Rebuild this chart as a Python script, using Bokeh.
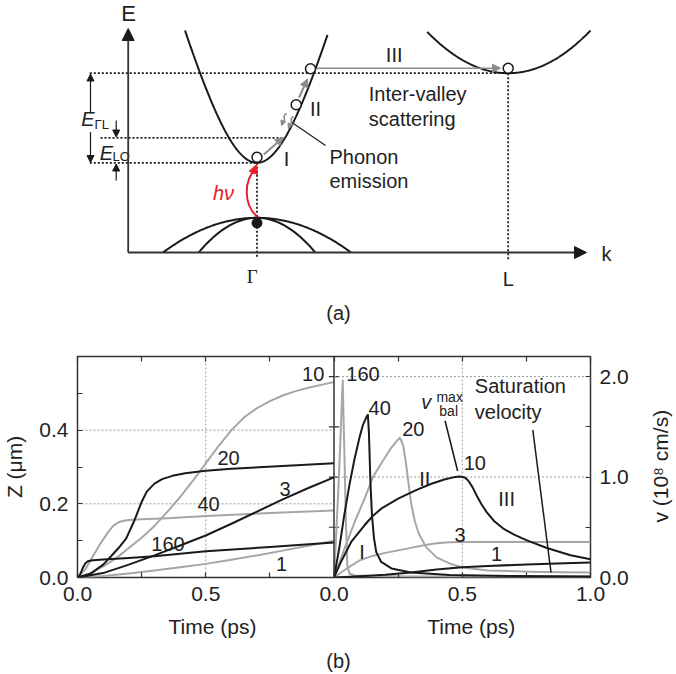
import numpy as np
from bokeh.plotting import figure
from bokeh.models import (Range1d, LinearAxis, FixedTicker, Arrow, NormalHead,
                          PrintfTickFormatter, Span)
from bokeh.layouts import column, row
from bokeh.embed import file_html
from bokeh.resources import INLINE
from bokeh.core.properties import value

FONT = "Liberation Sans"
SERIF = "Liberation Serif"
BLACK = "#1a1a1a"
LGRAY = "#a6a6a6"
AGRAY = "#8c8c8c"
RED = "#e5202a"
FRAME = "#333333"

# ---------------- panel (b), left: displacement Z (um) vs time (ps) ----------------
z_t_10 = [0, 0.05, 0.1, 0.15, 0.2, 0.25, 0.3, 0.35, 0.4, 0.45, 0.5, 0.55, 0.6, 0.65, 0.7, 0.75, 0.8, 0.85, 0.9, 0.95, 1.0]
z_10 = [0, 0.012, 0.03, 0.052, 0.08, 0.108, 0.14, 0.178, 0.218, 0.263, 0.31, 0.357, 0.4, 0.435, 0.46, 0.479, 0.494, 0.506, 0.515, 0.523, 0.531]
z_t_20 = [0, 0.05, 0.1, 0.13, 0.16, 0.19, 0.22, 0.25, 0.27, 0.3, 0.33, 0.37, 0.42, 0.5, 0.6, 0.8, 1.0]
z_20 = [0, 0.01, 0.035, 0.057, 0.08, 0.106, 0.152, 0.205, 0.233, 0.255, 0.267, 0.276, 0.283, 0.29, 0.295, 0.303, 0.31]
z_t_40 = [0, 0.03, 0.06, 0.09, 0.12, 0.14, 0.16, 0.18, 0.2, 0.25, 0.35, 0.5, 0.75, 1.0]
z_40 = [0, 0.022, 0.058, 0.093, 0.124, 0.141, 0.15, 0.154, 0.156, 0.158, 0.161, 0.167, 0.175, 0.182]
z_t_160 = [0, 0.01, 0.02, 0.03, 0.04, 0.06, 0.1, 0.2, 0.3, 0.5, 0.75, 1.0]
z_160 = [0, 0.008, 0.025, 0.038, 0.044, 0.047, 0.049, 0.053, 0.058, 0.071, 0.083, 0.095]
z_t_3 = [0, 0.1, 0.2, 0.3, 0.4, 0.5, 0.6, 0.7, 0.8, 0.9, 1.0]
z_3 = [0, 0.012, 0.035, 0.06, 0.087, 0.114, 0.146, 0.179, 0.212, 0.243, 0.272]
z_t_1 = [0, 0.1, 0.2, 0.3, 0.4, 0.5, 0.6, 0.7, 0.8, 0.9, 1.0]
z_1 = [0, 0.004, 0.011, 0.019, 0.028, 0.037, 0.048, 0.06, 0.073, 0.086, 0.1]

z_label_text = ["10", "20", "3", "40", "160", "1"]
z_label_t = [0.919, 0.589, 0.809, 0.511, 0.353, 0.796]
z_label_z = [0.552, 0.324, 0.241, 0.2, 0.092, 0.038]

z_ticks = [0, 0.2, 0.4]
z_minor = [0.1, 0.3, 0.5]
z_grid = [0.2, 0.4]

# ---------------- panel (b), right: velocity v (1e8 cm/s) vs time (ps) ----------------
v_t_160 = [0, 0.01, 0.02, 0.034, 0.04, 0.046, 0.052, 0.06, 0.08, 0.15, 0.3, 0.6, 1.0]
v_160 = [0, 0.5, 1.05, 1.96, 1.3, 0.6, 0.12, 0.04, 0.02, 0.015, 0.01, 0.01, 0.01]
v_t_40 = [0, 0.021, 0.04, 0.06, 0.08, 0.1, 0.113, 0.125, 0.132, 0.136, 0.142, 0.148, 0.156, 0.165, 0.184, 0.224, 0.3, 0.45, 0.7, 1.0]
v_40 = [0, 0.3, 0.62, 0.92, 1.18, 1.4, 1.52, 1.59, 1.62, 1.45, 0.95, 0.62, 0.39, 0.25, 0.155, 0.09, 0.05, 0.025, 0.015, 0.01]
v_t_20 = [0, 0.04, 0.08, 0.12, 0.152, 0.19, 0.22, 0.245, 0.256, 0.263, 0.27, 0.28, 0.29, 0.3, 0.315, 0.33, 0.36, 0.4, 0.45, 0.5, 0.6, 0.8, 1.0]
v_20 = [0, 0.28, 0.55, 0.79, 1.0, 1.16, 1.28, 1.36, 1.39, 1.36, 1.31, 1.15, 0.95, 0.75, 0.56, 0.44, 0.3, 0.2, 0.14, 0.1, 0.07, 0.055, 0.05]
v_t_10 = [0, 0.027, 0.067, 0.1, 0.119, 0.15, 0.184, 0.25, 0.32, 0.38, 0.43, 0.465, 0.49, 0.51, 0.523, 0.54, 0.556, 0.575, 0.595, 0.625, 0.66, 0.7, 0.752, 0.83, 0.922, 1.0]
v_10 = [0, 0.155, 0.354, 0.46, 0.52, 0.61, 0.685, 0.785, 0.87, 0.933, 0.975, 0.997, 1.006, 0.995, 0.966, 0.9, 0.817, 0.73, 0.651, 0.56, 0.487, 0.43, 0.37, 0.294, 0.221, 0.182]
v_t_3 = [0, 0.05, 0.1, 0.15, 0.2, 0.25, 0.3, 0.35, 0.4, 0.45, 0.5, 0.6, 0.8, 1.0]
v_3 = [0, 0.09, 0.17, 0.215, 0.245, 0.27, 0.295, 0.32, 0.34, 0.35, 0.354, 0.354, 0.354, 0.354]
v_t_1 = [0, 0.1, 0.2, 0.3, 0.4, 0.5, 0.6, 0.75, 0.9, 1.0]
v_1 = [0, 0.012, 0.028, 0.05, 0.08, 0.103, 0.114, 0.13, 0.142, 0.149]

v_label_text = ["160", "40", "20", "II", "3", "I", "10", "III", "1"]
v_label_t = [0.113, 0.178, 0.309, 0.354, 0.491, 0.109, 0.549, 0.673, 0.634]
v_label_v = [2.03, 1.69, 1.48, 0.98, 0.42, 0.254, 1.14, 0.785, 0.238]
sat_text = ["Saturation", "velocity"]
sat_t = [0.549, 0.549]
sat_v = [1.91, 1.645]
sat_leader_t = [0.775, 0.846]
sat_leader_v = [1.47, 0.05]
vbal_leader_t = [0.433, 0.482]
vbal_leader_v = [1.56, 1.06]

v_ticks = [0, 1.0, 2.0]
v_minor = [0.5, 1.5]
v_grid = [1.0, 2.0]

t_ticks = [0, 0.5, 1.0]
t_minor = [0.25, 0.75]
t_grid = [0.5]
T_MAX = 1.0

# ---------------- panel (a): schematic band diagram (drawing units = pixels) ----------------
AX_X, AX_Y = 127.7, 252.0
E_AXIS_TIP, K_AXIS_TIP = 28.0, 586.0
G_K0, G_E0 = 256.5, 162.3          # Gamma-valley minimum
NP_ALPHA, NP_C = 0.002445, 0.03379  # non-parabolic band shape
G_K_RANGE = (184.5, 327.0)
L_K0, L_E0, L_CURV = 507.7, 72.7, 0.0063
L_K_RANGE = (426.7, 590.0)
VB_E0 = 217.3
VB_CURV = [0.003927, 0.0102]
VB_HALF = [94.0, 58.3]
E_LO_LEVEL = 137.3

dot_x0 = [89.3, 100.0, 89.3, G_K0, L_K0]
dot_y0 = [L_E0, E_LO_LEVEL, G_E0, G_E0, L_E0]
dot_x1 = [L_K0, 283.0, G_K0, G_K0, L_K0]
dot_y1 = [L_E0, E_LO_LEVEL, G_E0, 258.0, 260.0]

open_x = [256.5, 295.7, 310.0, 507.7]
open_y = [156.7, 104.3, 68.3, 67.7]
hole_x, hole_y = [256.5], [222.5]


def band_gamma(k):
    dk = k - G_K0
    return G_E0 - (-1 + np.sqrt(1 + 4 * NP_ALPHA * NP_C * dk ** 2)) / (2 * NP_ALPHA)


def add_text(p, x, y, text, size="20px", align="center", color="#222222",
             font=FONT, style="normal", **kw):
    p.text(x=x, y=y, text=text, text_font=value(font), text_font_size=size,
           text_align=align, text_baseline="middle", text_color=color,
           text_font_style=style, **kw)


def blank_fig(w, h, flip=True):
    f = figure(width=w, height=h, x_range=Range1d(0, w),
               y_range=Range1d(h, 0) if flip else Range1d(0, h),
               x_axis_type=None, y_axis_type=None, output_backend="svg",
               toolbar_location=None, min_border=0)
    f.grid.visible = False
    f.outline_line_color = None
    return f


top = blank_fig(676, 330)

# dotted guides
top.segment(x0=dot_x0, y0=dot_y0, x1=dot_x1, y1=dot_y1, line_color=BLACK,
            line_width=1.8, line_dash="2 2")

# axes
for xs, ys, xe, ye in [(AX_X, AX_Y, AX_X, E_AXIS_TIP), (AX_X, AX_Y, K_AXIS_TIP, AX_Y)]:
    top.add_layout(Arrow(end=NormalHead(size=12, fill_color=BLACK, line_color=BLACK),
                         x_start=xs, y_start=ys, x_end=xe, y_end=ye,
                         line_color=FRAME, line_width=1.8))

# bands
kg = np.linspace(*G_K_RANGE, 200)
top.line(kg, band_gamma(kg), line_color=BLACK, line_width=2)
kl = np.linspace(*L_K_RANGE, 200)
top.line(kl, L_E0 - L_CURV * (kl - L_K0) ** 2, line_color=BLACK, line_width=2)
for a, h in zip(VB_CURV, VB_HALF):
    kv = np.linspace(G_K0 - h, G_K0 + h, 150)
    top.line(kv, VB_E0 + a * (kv - G_K0) ** 2, line_color=BLACK, line_width=2)

# energy-difference arrows
small_arrows = [(90, 113, 90, 73.5), (90, 131.5, 90, 162), (115.7, 120, 115.7, 136.5),
                (115.7, 180, 115.7, 163.5)]
for xs, ys, xe, ye in small_arrows:
    top.add_layout(Arrow(end=NormalHead(size=7, fill_color=BLACK, line_color=BLACK),
                         x_start=xs, y_start=ys, x_end=xe, y_end=ye,
                         line_color=BLACK, line_width=1.2))

# gray scattering arrows
gray_arrows = [(263.3, 154, 282.7, 137, 2), (298.5, 97, 307, 78.5, 2), (316, 67.7, 500, 67.7, 1.6)]
for xs, ys, xe, ye, w in gray_arrows:
    top.add_layout(Arrow(end=NormalHead(size=8, fill_color=AGRAY, line_color=AGRAY),
                         x_start=xs, y_start=ys, x_end=xe, y_end=ye,
                         line_color=AGRAY, line_width=w))
# phonon-emission wiggles
top.bezier(x0=[286, 293], y0=[113, 116], x1=[281, 288], y1=[124, 127],
           cx0=[280, 287], cy0=[115, 118], cx1=[288, 295], cy1=[121, 124],
           line_color=AGRAY, line_width=1.6)
for xs, ys, xe, ye in [(282.5, 121, 281, 125), (289.5, 124, 288, 128)]:
    top.add_layout(Arrow(end=NormalHead(size=5, fill_color=AGRAY, line_color=AGRAY),
                         x_start=xs, y_start=ys, x_end=xe, y_end=ye,
                         line_color=AGRAY, line_width=1))

# optical excitation
top.bezier(x0=[256.5], y0=[216], x1=[255.5], y1=[168], cx0=[243], cy0=[204],
           cx1=[243], cy1=[180], line_color=RED, line_width=2)
top.add_layout(Arrow(end=NormalHead(size=9, fill_color=RED, line_color=RED),
                     x_start=252.5, y_start=173, x_end=256, y_end=164,
                     line_color=RED, line_width=2))

# leader line for phonon emission
top.line([293.3, 325], [123.3, 145], line_color=BLACK, line_width=1.2)

# carriers
top.scatter(open_x, open_y, size=10, fill_color="white", line_color=BLACK, line_width=1.5)
top.scatter(hole_x, hole_y, size=10, fill_color=BLACK, line_color=BLACK)

add_text(top, [128], [13], ["E"], size="22px")
add_text(top, [606], [253], ["k"])
add_text(top, [251.7], [276], ["Γ"], size="19px", font=SERIF)
add_text(top, [507.7], [278], ["L"])
add_text(top, [286, 315, 393.7], [158.5, 108.3, 54], ["I", "II", "III"])
add_text(top, [368.3, 368.3, 329, 329], [93.3, 118.3, 156.7, 180],
         ["Inter-valley", "scattering", "Phonon", "emission"], align="left")
add_text(top, [223], [192], ["hν"], color=RED, style="italic")
add_text(top, [87.5, 106], [118, 152], ["E", "E"], style="italic")
add_text(top, [94, 112], [124, 156], ["ΓL", "LO"], size="13px", align="left")
add_text(top, [338], [312], ["(a)"])


# ---------------- panel (b): two abutting frames in one plot ----------------
# default ranges -> left panel (t, Z); extra ranges "t2"/"v" -> right panel (t, v)
def style_axis(ax, labels=True):
    ax.axis_line_color = None
    ax.major_tick_in = 5
    ax.major_tick_out = 0
    ax.minor_tick_in = 5
    ax.minor_tick_out = 0
    ax.major_tick_line_color = FRAME
    ax.minor_tick_line_color = FRAME
    ax.major_tick_line_width = 1.2
    ax.minor_tick_line_width = 1.2
    ax.major_label_text_font = FONT
    ax.major_label_text_font_size = "21px"
    ax.major_label_text_color = "#222222"
    ax.major_label_standoff = 9
    ax.axis_label_text_font = FONT
    ax.axis_label_text_font_size = "21px"
    ax.axis_label_text_font_style = "normal"
    ax.axis_label_text_color = "#222222"
    if not labels:
        ax.major_label_text_font_size = "1px"
        ax.major_label_text_alpha = 0
        ax.major_label_standoff = 0


pb = figure(width=644, height=282,
            x_range=Range1d(0, 2 * T_MAX), y_range=Range1d(0, 0.6),
            extra_x_ranges={"t2": Range1d(-T_MAX, T_MAX)},
            extra_y_ranges={"v": Range1d(0, 2.2)},
            x_axis_location=None, y_axis_location=None, output_backend="svg",
            toolbar_location=None, min_border_left=77, min_border_right=54,
            min_border_top=26, min_border_bottom=35)
pb.grid.visible = False
pb.outline_line_color = FRAME
pb.outline_line_width = 1.5

fmt = PrintfTickFormatter(format="%.1f")
# time axis: left panel ticks, then right panel ticks (shifted by one panel width)
all_t_ticks = t_ticks + [T_MAX + t for t in t_ticks[1:]]
all_t_minor = t_minor + [T_MAX + t for t in t_minor]
xb = LinearAxis(ticker=FixedTicker(ticks=all_t_ticks, minor_ticks=all_t_minor), formatter=fmt)
style_axis(xb)
xb.major_label_overrides = {T_MAX + t: "%.1f" % t for t in t_ticks}
pb.add_layout(xb, "below")
xt = LinearAxis(ticker=FixedTicker(ticks=all_t_ticks, minor_ticks=all_t_minor))
style_axis(xt, labels=False)
pb.add_layout(xt, "above")

yl = LinearAxis(ticker=FixedTicker(ticks=z_ticks, minor_ticks=z_minor), formatter=fmt,
                axis_label="Z (μm)")
style_axis(yl)
yl.axis_label_standoff = 10
pb.add_layout(yl, "left")
yr = LinearAxis(y_range_name="v", ticker=FixedTicker(ticks=v_ticks, minor_ticks=v_minor),
                formatter=fmt)
style_axis(yr)
pb.add_layout(yr, "right")

# divider between the two frames and its ticks (right panel's v ticks)
pb.add_layout(Span(location=T_MAX, dimension="height", line_color=FRAME, line_width=1.5))
v_inner = v_ticks[1:] + v_minor
pb.segment(x0=[-0.02] * len(v_inner), y0=v_inner, x1=[0.02] * len(v_inner), y1=v_inner,
           x_range_name="t2", y_range_name="v", line_color=FRAME, line_width=1.2)

# dashed grids
GRID = dict(line_color="#9a9a9a", line_dash="2 2", line_width=1)
pb.segment(x0=t_grid, y0=[0] * len(t_grid), x1=t_grid, y1=[0.6] * len(t_grid), **GRID)
pb.segment(x0=[0] * len(z_grid), y0=z_grid, x1=[T_MAX] * len(z_grid), y1=z_grid, **GRID)
pb.segment(x0=t_grid, y0=[0] * len(t_grid), x1=t_grid, y1=[2.2] * len(t_grid),
           x_range_name="t2", y_range_name="v", **GRID)
pb.segment(x0=[0] * len(v_grid), y0=v_grid, x1=[T_MAX] * len(v_grid), y1=v_grid,
           x_range_name="t2", y_range_name="v", **GRID)

for t, z, c in [(z_t_10, z_10, LGRAY), (z_t_40, z_40, LGRAY), (z_t_1, z_1, LGRAY),
                (z_t_20, z_20, BLACK), (z_t_3, z_3, BLACK), (z_t_160, z_160, BLACK)]:
    pb.line(t, z, line_color=c, line_width=2, line_join="round")
add_text(pb, z_label_t, z_label_z, z_label_text)

RV = dict(x_range_name="t2", y_range_name="v")
for t, v, c in [(v_t_160, v_160, LGRAY), (v_t_20, v_20, LGRAY), (v_t_3, v_3, LGRAY),
                (v_t_40, v_40, BLACK), (v_t_10, v_10, BLACK), (v_t_1, v_1, BLACK)]:
    pb.line(t, v, line_color=c, line_width=2, line_join="round", **RV)
pb.line(sat_leader_t, sat_leader_v, line_color=BLACK, line_width=1.5, **RV)
pb.line(vbal_leader_t, vbal_leader_v, line_color=BLACK, line_width=1.5, **RV)
add_text(pb, v_label_t, v_label_v, v_label_text, **RV)
add_text(pb, sat_t, sat_v, sat_text, align="left", **RV)
add_text(pb, [0.36], [1.745], ["v"], style="italic", **RV)
add_text(pb, [0.451, 0.447], [1.80, 1.66], ["max", "bal"], size="14px", **RV)

# right-hand axis title (reads bottom to top)
vlab = blank_fig(32, 282, flip=False)
vlab.text(x=[16], y=[142], text=["v (10⁸ cm/s)"], angle=np.pi / 2, text_font=value(FONT),
          text_font_size="21px", text_align="center", text_baseline="middle",
          text_color="#222222")

# x-axis titles and caption
cap = blank_fig(676, 62)
add_text(cap, [212, 470.7], [14, 14], ["Time (ps)", "Time (ps)"], size="21px")
add_text(cap, [338], [48], ["(b)"])

layout = column(top, row(pb, vlab), cap)
open("out.html", "w").write(file_html(layout, INLINE))
